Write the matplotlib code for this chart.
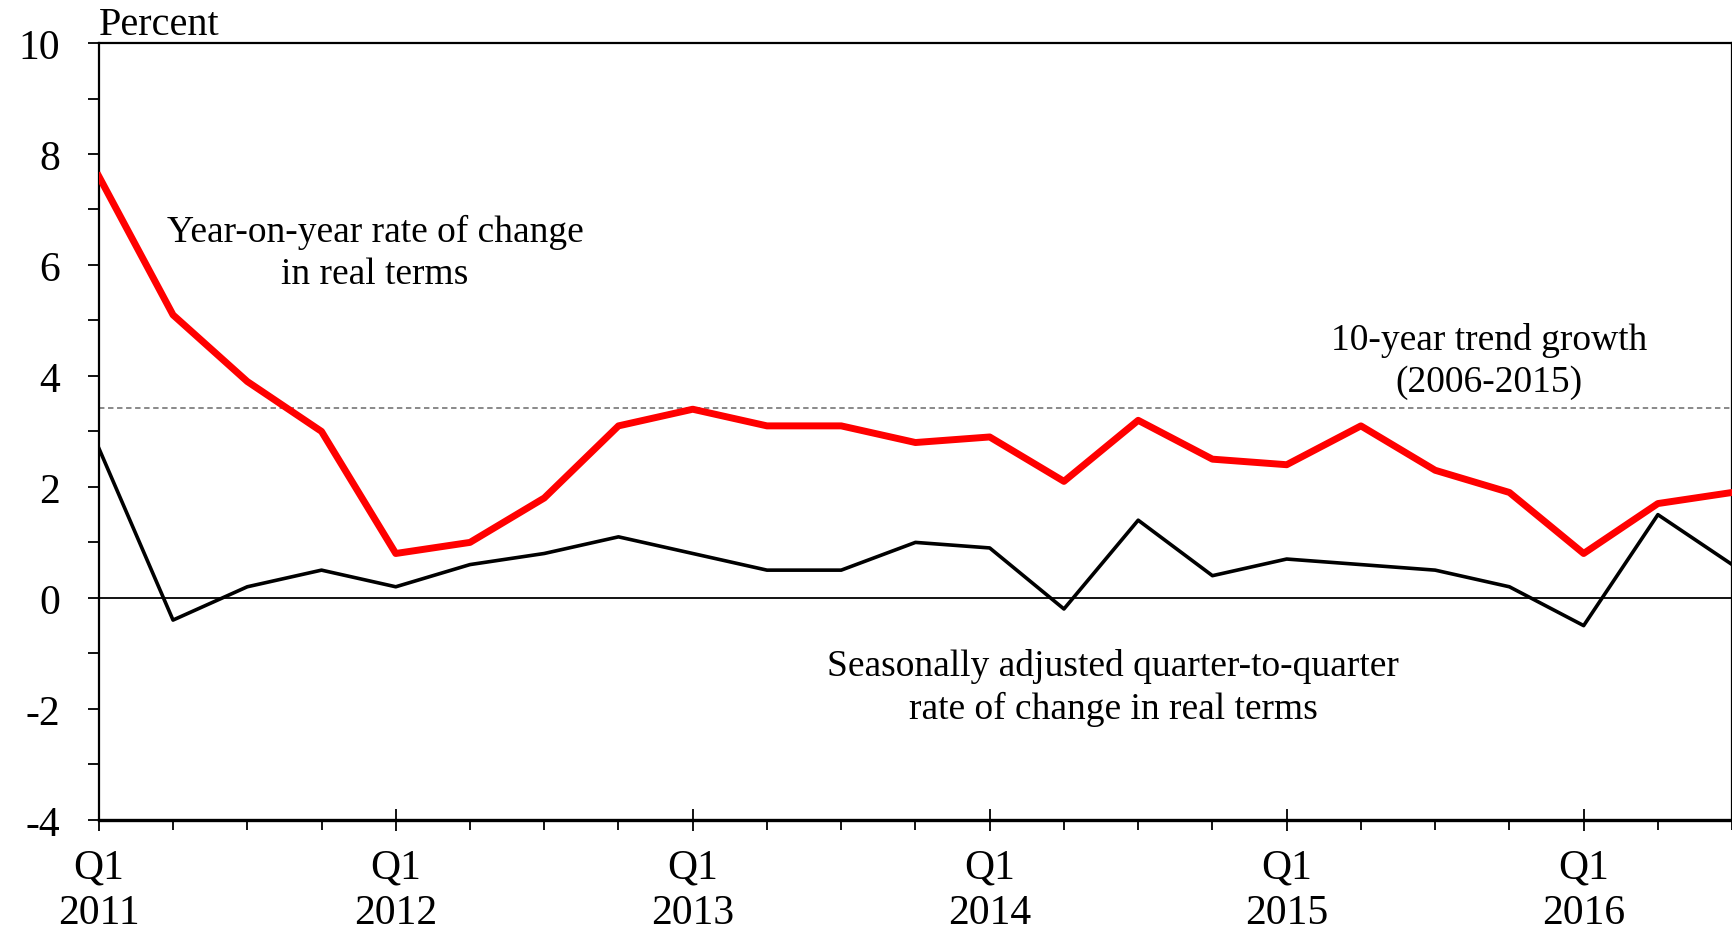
import matplotlib.pyplot as plt
import numpy as np
from matplotlib.ticker import MultipleLocator, FixedLocator

plt.rcParams['font.family'] = ['Liberation Serif', 'DejaVu Serif']
plt.rcParams['axes.unicode_minus'] = False

# quarterly data, Q1 2011 .. Q3 2016
years = [2011, 2012, 2013, 2014, 2015, 2016]
yoy = [7.6, 5.1, 3.9, 3.0, 0.8, 1.0, 1.8, 3.1, 3.4, 3.1, 3.1, 2.8,
       2.9, 2.1, 3.2, 2.5, 2.4, 3.1, 2.3, 1.9, 0.8, 1.7, 1.9]
qoq = [2.7, -0.4, 0.2, 0.5, 0.2, 0.6, 0.8, 1.1, 0.8, 0.5, 0.5, 1.0,
       0.9, -0.2, 1.4, 0.4, 0.7, 0.6, 0.5, 0.2, -0.5, 1.5, 0.6]
trend = 3.43

x = np.arange(len(yoy))

fig = plt.figure(figsize=(17.33, 9.37), dpi=100)
ax = fig.add_axes([0.057, 0.124, 0.9425, 0.829])

ax.axhline(0, color='black', lw=1.3, zorder=1)
ax.axhline(trend, color='#808080', lw=1.3, ls=(0, (3, 2)), zorder=1)
ax.plot(x, qoq, color='black', lw=2.6, zorder=3)
ax.plot(x, yoy, color='#ff0000', lw=5, zorder=4)

ax.set_xlim(0, len(yoy) - 1)
ax.set_ylim(-4, 10)

ax.yaxis.set_major_locator(MultipleLocator(2))
ax.yaxis.set_minor_locator(MultipleLocator(1))
ax.tick_params(axis='y', which='both', direction='out', length=8, width=1.3,
               labelsize=30, pad=20)

ax.xaxis.set_major_locator(FixedLocator([4 * i for i in range(len(years))]))
ax.xaxis.set_minor_locator(FixedLocator(list(x)))
ax.set_xticklabels(['Q1\n%d' % y for y in years])
ax.tick_params(axis='x', which='major', direction='inout', length=16, width=1.3,
               labelsize=30, pad=12)
ax.tick_params(axis='x', which='minor', direction='out', length=7, width=1.3)

for s in ax.spines.values():
    s.set_linewidth(1.6)
ax.spines['bottom'].set_linewidth(2.4)

for lbl in ax.get_xticklabels():
    lbl.set_linespacing(1.25)

ax.text(0.0, 1.0, 'Percent', transform=ax.transAxes, fontsize=29,
        ha='left', va='bottom')
ax.text(3.72, 6.23, 'Year-on-year rate of change\nin real terms', fontsize=27,
        ha='center', va='center', linespacing=1.3)
ax.text(18.73, 4.28, '10-year trend growth\n(2006-2015)', fontsize=27,
        ha='center', va='center', linespacing=1.3)
ax.text(13.66, -1.61, 'Seasonally adjusted quarter-to-quarter\nrate of change in real terms',
        fontsize=27, ha='center', va='center', linespacing=1.3)

plt.savefig('out.png', dpi=100)
